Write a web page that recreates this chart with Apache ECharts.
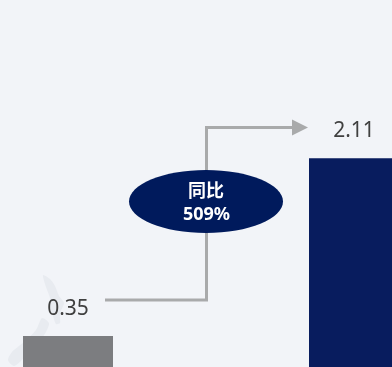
<!DOCTYPE html>
<html>
<head>
<meta charset="utf-8">
<style>html,body{margin:0;padding:0;background:#f2f4f8}#c{width:392px;height:367px}</style>
<script src="https://cdn.jsdelivr.net/npm/echarts@6/dist/echarts.min.js"></script>
</head>
<body>
<div id="c"></div>
<script>
const categories = ['上年同期', '本期'];
const values = [0.35, 2.11];
const barColors = ['#7c7d80', '#081c5e'];
const badgeTitle = '同比';
const badgeValue = '509%';

const chart = echarts.init(document.getElementById('c'), null, { renderer: 'canvas' });
const FONT = '"Noto Sans", "Noto Sans CJK SC", sans-serif';
const ARROW_GREY = '#a9aaab';
const MAP_GREY = '#e8ebf0';

chart.setOption({
  animation: false,
  backgroundColor: '#f2f4f8',
  // The plot runs past the window so the two bars are cut by its edges.
  grid: { left: -75, right: -105, top: 0, bottom: -4.5, containLabel: false, outerBoundsMode: 'none' },
  xAxis: { type: 'category', data: categories, show: false },
  yAxis: { type: 'value', min: 0, max: 3.674, show: false },
  series: [{
    type: 'bar',
    barWidth: 90,
    clip: false,
    data: values.map((v, i) => ({ value: v, itemStyle: { color: barColors[i] } })),
    label: {
      show: true,
      position: 'top',
      distance: 17,
      fontFamily: FONT,
      fontSize: 21,
      color: '#404040'
    },
    z: 3
  }],
  graphic: [
    // Faint map watermark behind the first bar
    {
      type: 'polygon', silent: true, z: 1,
      shape: { smooth: 0.25, points: [[43,275],[50,279],[55,286],[59,296],[64,303],[60,313],[60,323],[56,324],[53,316],[50,308],[50,298],[46,287]] },
      style: { fill: MAP_GREY }
    },
    {
      type: 'polygon', silent: true, z: 1,
      shape: { smooth: 0.25, points: [[42,318],[49,323],[46,332],[36,346],[24,358],[14,366],[8,360],[12,352],[24,342],[36,330]] },
      style: { fill: MAP_GREY }
    },
    // Connector between the two value labels
    {
      type: 'polyline', silent: true, z: 4,
      shape: { points: [[105,300],[206.5,300],[206.5,127.5],[296,127.5]] },
      style: { fill: null, stroke: ARROW_GREY, lineWidth: 3 }
    },
    {
      type: 'polygon', silent: true, z: 4,
      shape: { points: [[292,119.5],[308,127.5],[292,135.5]] },
      style: { fill: ARROW_GREY }
    },
    // Year-on-year badge
    {
      type: 'ellipse', silent: true, z: 5,
      shape: { cx: 206, cy: 201.5, rx: 77, ry: 31.5 },
      style: { fill: '#001a5c' }
    },
    {
      type: 'text', silent: true, z: 6,
      style: { x: 206, y: 191.5, text: badgeTitle, align: 'center', verticalAlign: 'middle',
        fill: '#ffffff', font: 'bold 18px ' + FONT }
    },
    {
      type: 'text', silent: true, z: 6,
      style: { x: 206.5, y: 214.5, text: badgeValue, align: 'center', verticalAlign: 'middle',
        fill: '#ffffff', font: 'bold 18px ' + FONT }
    }
  ]
});
</script>
</body>
</html>
